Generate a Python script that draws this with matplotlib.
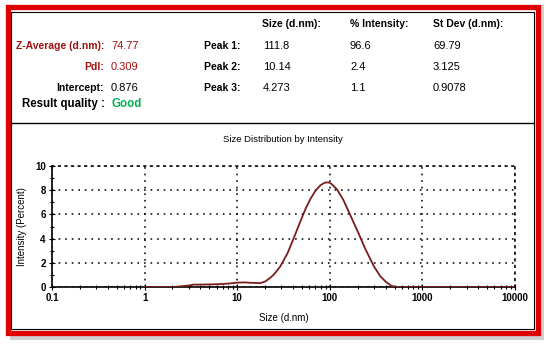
import matplotlib
matplotlib.use("Agg")
import matplotlib.pyplot as plt
from matplotlib.patches import Rectangle
from matplotlib.lines import Line2D
from matplotlib.ticker import LogLocator, FixedLocator, NullFormatter

plt.rcParams['font.family'] = ['Liberation Sans', 'DejaVu Sans']

# size distribution curve
sizes = [1, 2, 2.4, 3, 3.4, 4, 5.5, 7, 8.5, 10, 12, 14, 17.7, 20, 22.7, 25, 29.2,
         35, 40.6, 48, 55, 62, 70, 79, 88, 97, 105, 120, 140, 165, 200, 240,
         300, 350, 400, 460, 520, 1000, 10000]
intensity = [0, 0, 0.05, 0.12, 0.2, 0.2, 0.22, 0.25, 0.3, 0.36, 0.38, 0.35, 0.32,
             0.45, 0.75, 1.05, 1.7, 2.8, 4.0, 5.4, 6.5, 7.3, 7.95, 8.4, 8.62, 8.65,
             8.5, 8.05, 7.2, 6.0, 4.6, 3.2, 1.7, 0.9, 0.45, 0.1, 0, 0, 0]

# header table
left_labels = ["Z-Average (d.nm):", "PdI:", "Intercept:"]
left_values = ["74.77", "0.309", "0.876"]
left_colors = ["#a01010", "#a01010", "black"]
col_headers = ["Size (d.nm):", "% Intensity:", "St Dev (d.nm):"]
peak_names = ["Peak 1:", "Peak 2:", "Peak 3:"]
peak_size = ["111.8", "10.14", "4.273"]
peak_int = ["96.6", "2.4", "1.1"]
peak_sd = ["69.79", "3.125", "0.9078"]

W, H = 550, 344
fig = plt.figure(figsize=(W / 100, H / 100), dpi=100)


def fx(x):
    return x / W


def fy(y):
    return 1 - y / H


# frame: shadow, red border, inner black line, divider
fig.patches.append(Rectangle((fx(10), fy(340)), fx(534), 335 / H, transform=fig.transFigure,
                             facecolor="#d0d0d0", edgecolor="none", zorder=0))
fig.patches.append(Rectangle((fx(8), fy(333)), fx(530), 326 / H, transform=fig.transFigure,
                             facecolor="white", edgecolor="#e00000", lw=3.8, zorder=1))
fig.patches.append(Rectangle((fx(11), fy(329)), fx(523), 317 / H, transform=fig.transFigure,
                             facecolor="none", edgecolor="black", lw=0.8, zorder=2))
fig.lines.append(Line2D([fx(11), fx(534)], [fy(123), fy(123)], transform=fig.transFigure,
                        color="black", lw=1.0, zorder=2))

fs = 7.5
vfs = 8
for i, h in enumerate(col_headers):
    fig.text(fx([262, 350, 433][i]), fy(24), h, fontsize=fs, fontweight="bold", va="center")

rows_y = [46, 67, 88]
for i in range(3):
    fig.text(fx(104), fy(rows_y[i]), left_labels[i], fontsize=fs, fontweight="bold",
             color=left_colors[i], ha="right", va="center")
    fig.text(fx(111), fy(rows_y[i]), left_values[i], fontsize=vfs, color=left_colors[i], va="center")
    fig.text(fx(204), fy(rows_y[i]), peak_names[i], fontsize=fs, fontweight="bold", va="center")
    fig.text(fx(263), fy(rows_y[i]), peak_size[i], fontsize=vfs, va="center")
    fig.text(fx(350), fy(rows_y[i]), peak_int[i], fontsize=vfs, va="center")
    fig.text(fx(433), fy(rows_y[i]), peak_sd[i], fontsize=vfs, va="center")

fig.text(fx(22), fy(104), "Result quality :", fontsize=8.3, fontweight="bold", va="center")
fig.text(fx(111), fy(104), "Good", fontsize=8.3, fontweight="bold", color="#00b050", va="center")

# chart
ax = fig.add_axes([fx(52), fy(287), 463 / W, 121 / H], zorder=3)
ax.plot(sizes, intensity, color="#7a1c1c", lw=1.3, zorder=4)
ax.set_xscale("log")
ax.set_xlim(0.1, 10000)
ax.set_ylim(0, 10)
ax.patch.set_alpha(0)

ax.xaxis.set_major_locator(FixedLocator([0.1, 1, 10, 100, 1000, 10000]))
ax.xaxis.set_minor_locator(LogLocator(base=10, subs=range(2, 10), numticks=20))
ax.xaxis.set_minor_formatter(NullFormatter())
ax.set_xticklabels(["0.1", "1", "10", "100", "1000", "10000"])
ax.yaxis.set_major_locator(FixedLocator([0, 2, 4, 6, 8, 10]))
ax.yaxis.set_minor_locator(FixedLocator([1, 3, 5, 7, 9]))
ax.tick_params(which="both", direction="inout", labelsize=7, width=0.8, pad=2)
ax.tick_params(which="major", length=5)
ax.tick_params(which="minor", length=3)
for lab in ax.get_xticklabels() + ax.get_yticklabels():
    lab.set_fontweight("bold")

dots = (0, (1.1, 3.2))
ax.grid(True, which="major", color="black", linestyle=dots, lw=1.1)
for s in ["top", "right"]:
    ax.spines[s].set_linestyle(dots)
    ax.spines[s].set_linewidth(1.1)
ax.spines["left"].set_linewidth(1.2)
ax.spines["bottom"].set_linewidth(1.2)

ax.set_xlabel("Size (d.nm)", fontsize=7, labelpad=7)
ax.set_ylabel("Intensity (Percent)", fontsize=7, labelpad=6)
fig.text(fx(283), fy(139), "Size Distribution by Intensity", fontsize=6.8, ha="center", va="center")

fig.savefig("out.png", dpi=100)
